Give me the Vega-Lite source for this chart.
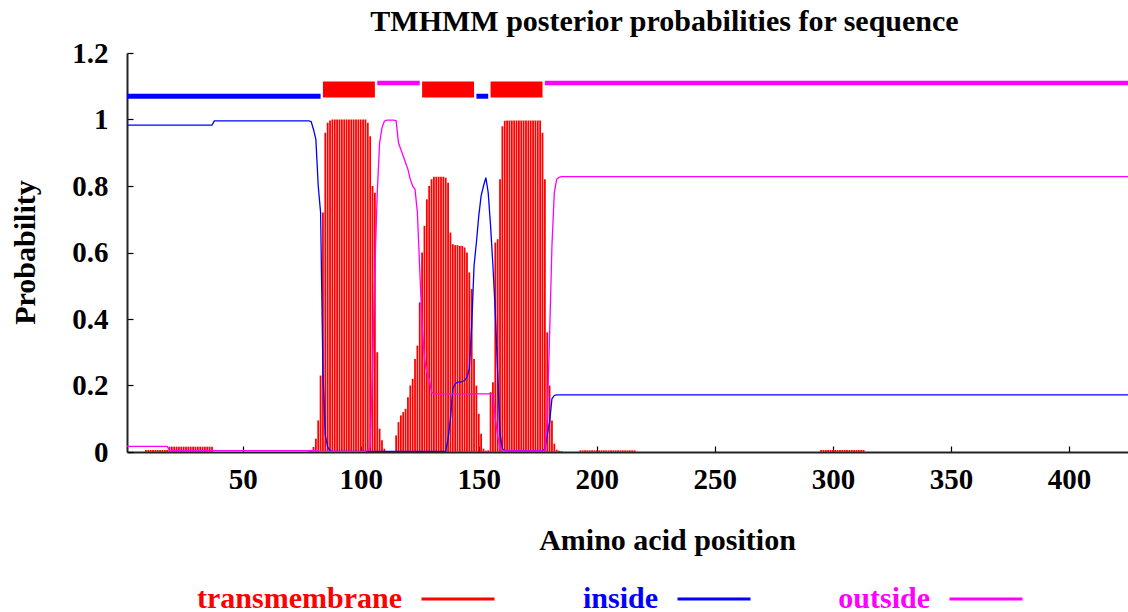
{
  "$schema": "https://vega.github.io/schema/vega-lite/v6.json",
  "width": 1001,
  "height": 399,
  "autosize": {"type": "none"},
  "padding": {"left": 127, "top": 53, "right": 0, "bottom": 160},
  "background": "white",
  "title": {
    "text": "TMHMM posterior probabilities for sequence",
    "font": "Liberation Serif", "fontSize": 30, "fontWeight": "bold", "color": "black",
    "anchor": "middle", "dx": 37, "offset": 2
  },
  "config": {
    "view": {"stroke": null},
    "axis": {
      "labelFont": "Liberation Serif", "labelFontSize": 29, "labelFontWeight": "bold", "labelColor": "black",
      "titleFont": "Liberation Serif", "titleFontSize": 30, "titleFontWeight": "bold", "titleColor": "black",
      "domainColor": "#222222", "domainWidth": 2, "tickColor": "black", "tickWidth": 1.2, "grid": false
    },
    "legend": {
      "orient": "none", "legendX": 293, "legendY": 508, "direction": "horizontal", "padding": 0,
      "symbolType": "stroke", "symbolSize": 5329, "symbolStrokeWidth": 3,
      "labelFont": "Liberation Serif", "labelFontSize": 30, "labelFontWeight": "bold", "labelLimit": 0,
      "columnPadding": 81
    }
  },
  "datasets": {
    "prob": [
      {"pos": 1, "tm": 0, "inside": 0.983, "outside": 0.017},
      {"pos": 8, "tm": 0, "inside": 0.983, "outside": 0.017},
      {"pos": 9, "tm": 0.006, "inside": 0.983, "outside": 0.017},
      {"pos": 10, "tm": 0.006, "inside": 0.983, "outside": 0.017},
      {"pos": 11, "tm": 0.006, "inside": 0.983, "outside": 0.017},
      {"pos": 12, "tm": 0.006, "inside": 0.983, "outside": 0.017},
      {"pos": 13, "tm": 0.006, "inside": 0.983, "outside": 0.017},
      {"pos": 14, "tm": 0.006, "inside": 0.983, "outside": 0.017},
      {"pos": 15, "tm": 0.006, "inside": 0.983, "outside": 0.017},
      {"pos": 16, "tm": 0.006, "inside": 0.983, "outside": 0.017},
      {"pos": 17, "tm": 0.006, "inside": 0.983, "outside": 0.017},
      {"pos": 18, "tm": 0.006, "inside": 0.983, "outside": 0.017},
      {"pos": 19, "tm": 0.016, "inside": 0.983, "outside": 0.004},
      {"pos": 20, "tm": 0.016, "inside": 0.983, "outside": 0.004},
      {"pos": 21, "tm": 0.016, "inside": 0.983, "outside": 0.004},
      {"pos": 22, "tm": 0.016, "inside": 0.983, "outside": 0.004},
      {"pos": 23, "tm": 0.016, "inside": 0.983, "outside": 0.004},
      {"pos": 24, "tm": 0.016, "inside": 0.983, "outside": 0.004},
      {"pos": 25, "tm": 0.016, "inside": 0.983, "outside": 0.004},
      {"pos": 26, "tm": 0.016, "inside": 0.983, "outside": 0.004},
      {"pos": 27, "tm": 0.016, "inside": 0.983, "outside": 0.004},
      {"pos": 28, "tm": 0.016, "inside": 0.983, "outside": 0.004},
      {"pos": 29, "tm": 0.016, "inside": 0.983, "outside": 0.004},
      {"pos": 30, "tm": 0.016, "inside": 0.983, "outside": 0.004},
      {"pos": 31, "tm": 0.016, "inside": 0.983, "outside": 0.004},
      {"pos": 32, "tm": 0.016, "inside": 0.983, "outside": 0.004},
      {"pos": 33, "tm": 0.016, "inside": 0.983, "outside": 0.004},
      {"pos": 34, "tm": 0.016, "inside": 0.983, "outside": 0.004},
      {"pos": 35, "tm": 0.016, "inside": 0.983, "outside": 0.004},
      {"pos": 36, "tm": 0.016, "inside": 0.983, "outside": 0.004},
      {"pos": 37, "tm": 0.016, "inside": 0.983, "outside": 0.004},
      {"pos": 38, "tm": 0, "inside": 0.996, "outside": 0.004},
      {"pos": 78, "tm": 0.002, "inside": 0.996, "outside": 0.004},
      {"pos": 79, "tm": 0.005, "inside": 0.994, "outside": 0.004},
      {"pos": 80, "tm": 0.015, "inside": 0.97, "outside": 0.004},
      {"pos": 81, "tm": 0.04, "inside": 0.94, "outside": 0.003},
      {"pos": 82, "tm": 0.095, "inside": 0.8, "outside": 0.003},
      {"pos": 83, "tm": 0.23, "inside": 0.72, "outside": 0.002},
      {"pos": 84, "tm": 0.72, "inside": 0.24, "outside": 0.002},
      {"pos": 85, "tm": 0.96, "inside": 0.05, "outside": 0.002},
      {"pos": 86, "tm": 0.99, "inside": 0.015, "outside": 0.002},
      {"pos": 87, "tm": 0.997, "inside": 0.004, "outside": 0.002},
      {"pos": 88, "tm": 1.0, "inside": 0.002, "outside": 0.002},
      {"pos": 89, "tm": 1.0, "inside": 0.002, "outside": 0.002},
      {"pos": 90, "tm": 1.0, "inside": 0.002, "outside": 0.002},
      {"pos": 91, "tm": 1.0, "inside": 0.002, "outside": 0.002},
      {"pos": 92, "tm": 1.0, "inside": 0.002, "outside": 0.002},
      {"pos": 93, "tm": 1.0, "inside": 0.002, "outside": 0.002},
      {"pos": 94, "tm": 1.0, "inside": 0.002, "outside": 0.002},
      {"pos": 95, "tm": 1.0, "inside": 0.002, "outside": 0.002},
      {"pos": 96, "tm": 1.0, "inside": 0.002, "outside": 0.002},
      {"pos": 97, "tm": 1.0, "inside": 0.002, "outside": 0.002},
      {"pos": 98, "tm": 1.0, "inside": 0.002, "outside": 0.002},
      {"pos": 99, "tm": 1.0, "inside": 0.002, "outside": 0.002},
      {"pos": 100, "tm": 1.0, "inside": 0.002, "outside": 0.002},
      {"pos": 101, "tm": 1.0, "inside": 0.002, "outside": 0.002},
      {"pos": 102, "tm": 1.0, "inside": 0.002, "outside": 0.002},
      {"pos": 103, "tm": 0.99, "inside": 0.002, "outside": 0.005},
      {"pos": 104, "tm": 0.95, "inside": 0.002, "outside": 0.015},
      {"pos": 105, "tm": 0.8, "inside": 0.002, "outside": 0.25},
      {"pos": 106, "tm": 0.78, "inside": 0.002, "outside": 0.55},
      {"pos": 107, "tm": 0.3, "inside": 0.002, "outside": 0.78},
      {"pos": 108, "tm": 0.07, "inside": 0.002, "outside": 0.93},
      {"pos": 109, "tm": 0.035, "inside": 0.002, "outside": 0.975},
      {"pos": 110, "tm": 0.01, "inside": 0.002, "outside": 0.995},
      {"pos": 111, "tm": 0, "inside": 0.002, "outside": 0.998},
      {"pos": 114, "tm": 0, "inside": 0.002, "outside": 0.998},
      {"pos": 115, "tm": 0.05, "inside": 0.002, "outside": 0.996},
      {"pos": 116, "tm": 0.09, "inside": 0.002, "outside": 0.93},
      {"pos": 117, "tm": 0.11, "inside": 0.002, "outside": 0.91},
      {"pos": 118, "tm": 0.12, "inside": 0.002, "outside": 0.89},
      {"pos": 119, "tm": 0.13, "inside": 0.002, "outside": 0.87},
      {"pos": 120, "tm": 0.165, "inside": 0.002, "outside": 0.85},
      {"pos": 121, "tm": 0.2, "inside": 0.002, "outside": 0.82},
      {"pos": 122, "tm": 0.22, "inside": 0.002, "outside": 0.8},
      {"pos": 123, "tm": 0.28, "inside": 0.002, "outside": 0.79},
      {"pos": 124, "tm": 0.32, "inside": 0.002, "outside": 0.72},
      {"pos": 125, "tm": 0.45, "inside": 0.002, "outside": 0.55},
      {"pos": 126, "tm": 0.6, "inside": 0.002, "outside": 0.38},
      {"pos": 127, "tm": 0.68, "inside": 0.002, "outside": 0.28},
      {"pos": 128, "tm": 0.76, "inside": 0.002, "outside": 0.24},
      {"pos": 129, "tm": 0.8, "inside": 0.002, "outside": 0.22},
      {"pos": 130, "tm": 0.82, "inside": 0.002, "outside": 0.18},
      {"pos": 131, "tm": 0.828, "inside": 0.002, "outside": 0.175},
      {"pos": 132, "tm": 0.828, "inside": 0.002, "outside": 0.175},
      {"pos": 133, "tm": 0.828, "inside": 0.002, "outside": 0.175},
      {"pos": 134, "tm": 0.828, "inside": 0.002, "outside": 0.175},
      {"pos": 135, "tm": 0.828, "inside": 0.002, "outside": 0.175},
      {"pos": 136, "tm": 0.825, "inside": 0.002, "outside": 0.175},
      {"pos": 137, "tm": 0.81, "inside": 0.04, "outside": 0.175},
      {"pos": 138, "tm": 0.66, "inside": 0.1, "outside": 0.175},
      {"pos": 139, "tm": 0.625, "inside": 0.19, "outside": 0.175},
      {"pos": 140, "tm": 0.622, "inside": 0.205, "outside": 0.175},
      {"pos": 141, "tm": 0.622, "inside": 0.21, "outside": 0.175},
      {"pos": 142, "tm": 0.62, "inside": 0.21, "outside": 0.175},
      {"pos": 143, "tm": 0.62, "inside": 0.212, "outside": 0.175},
      {"pos": 144, "tm": 0.615, "inside": 0.215, "outside": 0.175},
      {"pos": 145, "tm": 0.6, "inside": 0.225, "outside": 0.175},
      {"pos": 146, "tm": 0.54, "inside": 0.25, "outside": 0.175},
      {"pos": 147, "tm": 0.49, "inside": 0.38, "outside": 0.175},
      {"pos": 148, "tm": 0.28, "inside": 0.56, "outside": 0.175},
      {"pos": 149, "tm": 0.2, "inside": 0.63, "outside": 0.175},
      {"pos": 150, "tm": 0.115, "inside": 0.71, "outside": 0.175},
      {"pos": 151, "tm": 0.055, "inside": 0.77, "outside": 0.175},
      {"pos": 152, "tm": 0.01, "inside": 0.8, "outside": 0.175},
      {"pos": 153, "tm": 0.004, "inside": 0.825, "outside": 0.175},
      {"pos": 154, "tm": 0.005, "inside": 0.78, "outside": 0.175},
      {"pos": 155, "tm": 0.18, "inside": 0.68, "outside": 0.175},
      {"pos": 156, "tm": 0.21, "inside": 0.56, "outside": 0.175},
      {"pos": 157, "tm": 0.63, "inside": 0.42, "outside": 0.1},
      {"pos": 158, "tm": 0.64, "inside": 0.24, "outside": 0.05},
      {"pos": 159, "tm": 0.82, "inside": 0.055, "outside": 0.01},
      {"pos": 160, "tm": 0.98, "inside": 0.01, "outside": 0.004},
      {"pos": 161, "tm": 0.996, "inside": 0.004, "outside": 0.003},
      {"pos": 162, "tm": 0.997, "inside": 0.003, "outside": 0.003},
      {"pos": 163, "tm": 0.997, "inside": 0.003, "outside": 0.003},
      {"pos": 164, "tm": 0.997, "inside": 0.003, "outside": 0.003},
      {"pos": 165, "tm": 0.997, "inside": 0.003, "outside": 0.003},
      {"pos": 166, "tm": 0.997, "inside": 0.003, "outside": 0.003},
      {"pos": 167, "tm": 0.997, "inside": 0.003, "outside": 0.003},
      {"pos": 168, "tm": 0.997, "inside": 0.003, "outside": 0.003},
      {"pos": 169, "tm": 0.997, "inside": 0.003, "outside": 0.003},
      {"pos": 170, "tm": 0.997, "inside": 0.003, "outside": 0.003},
      {"pos": 171, "tm": 0.997, "inside": 0.003, "outside": 0.003},
      {"pos": 172, "tm": 0.997, "inside": 0.003, "outside": 0.003},
      {"pos": 173, "tm": 0.997, "inside": 0.003, "outside": 0.003},
      {"pos": 174, "tm": 0.997, "inside": 0.003, "outside": 0.003},
      {"pos": 175, "tm": 0.997, "inside": 0.003, "outside": 0.003},
      {"pos": 176, "tm": 0.997, "inside": 0.003, "outside": 0.003},
      {"pos": 177, "tm": 0.96, "inside": 0.003, "outside": 0.003},
      {"pos": 178, "tm": 0.82, "inside": 0.01, "outside": 0.005},
      {"pos": 179, "tm": 0.36, "inside": 0.05, "outside": 0.1},
      {"pos": 180, "tm": 0.2, "inside": 0.09, "outside": 0.35},
      {"pos": 181, "tm": 0.095, "inside": 0.16, "outside": 0.62},
      {"pos": 182, "tm": 0.025, "inside": 0.17, "outside": 0.78},
      {"pos": 183, "tm": 0.007, "inside": 0.172, "outside": 0.82},
      {"pos": 184, "tm": 0.004, "inside": 0.172, "outside": 0.826},
      {"pos": 185, "tm": 0.003, "inside": 0.172, "outside": 0.828},
      {"pos": 186, "tm": 0, "inside": 0.172, "outside": 0.828},
      {"pos": 193, "tm": 0.005, "inside": 0.172, "outside": 0.828},
      {"pos": 194, "tm": 0.005, "inside": 0.172, "outside": 0.828},
      {"pos": 195, "tm": 0.005, "inside": 0.172, "outside": 0.828},
      {"pos": 196, "tm": 0.005, "inside": 0.172, "outside": 0.828},
      {"pos": 197, "tm": 0.005, "inside": 0.172, "outside": 0.828},
      {"pos": 198, "tm": 0.005, "inside": 0.172, "outside": 0.828},
      {"pos": 199, "tm": 0.005, "inside": 0.172, "outside": 0.828},
      {"pos": 200, "tm": 0.005, "inside": 0.172, "outside": 0.828},
      {"pos": 201, "tm": 0.005, "inside": 0.172, "outside": 0.828},
      {"pos": 202, "tm": 0.005, "inside": 0.172, "outside": 0.828},
      {"pos": 203, "tm": 0.005, "inside": 0.172, "outside": 0.828},
      {"pos": 204, "tm": 0.005, "inside": 0.172, "outside": 0.828},
      {"pos": 205, "tm": 0.005, "inside": 0.172, "outside": 0.828},
      {"pos": 206, "tm": 0.005, "inside": 0.172, "outside": 0.828},
      {"pos": 207, "tm": 0.005, "inside": 0.172, "outside": 0.828},
      {"pos": 208, "tm": 0.005, "inside": 0.172, "outside": 0.828},
      {"pos": 209, "tm": 0.005, "inside": 0.172, "outside": 0.828},
      {"pos": 210, "tm": 0.005, "inside": 0.172, "outside": 0.828},
      {"pos": 211, "tm": 0.005, "inside": 0.172, "outside": 0.828},
      {"pos": 212, "tm": 0.005, "inside": 0.172, "outside": 0.828},
      {"pos": 213, "tm": 0.005, "inside": 0.172, "outside": 0.828},
      {"pos": 214, "tm": 0.005, "inside": 0.172, "outside": 0.828},
      {"pos": 215, "tm": 0.005, "inside": 0.172, "outside": 0.828},
      {"pos": 216, "tm": 0.005, "inside": 0.172, "outside": 0.828},
      {"pos": 295, "tm": 0.006, "inside": 0.172, "outside": 0.828},
      {"pos": 296, "tm": 0.006, "inside": 0.172, "outside": 0.828},
      {"pos": 297, "tm": 0.006, "inside": 0.172, "outside": 0.828},
      {"pos": 298, "tm": 0.006, "inside": 0.172, "outside": 0.828},
      {"pos": 299, "tm": 0.006, "inside": 0.172, "outside": 0.828},
      {"pos": 300, "tm": 0.006, "inside": 0.172, "outside": 0.828},
      {"pos": 301, "tm": 0.006, "inside": 0.172, "outside": 0.828},
      {"pos": 302, "tm": 0.006, "inside": 0.172, "outside": 0.828},
      {"pos": 303, "tm": 0.006, "inside": 0.172, "outside": 0.828},
      {"pos": 304, "tm": 0.006, "inside": 0.172, "outside": 0.828},
      {"pos": 305, "tm": 0.006, "inside": 0.172, "outside": 0.828},
      {"pos": 306, "tm": 0.006, "inside": 0.172, "outside": 0.828},
      {"pos": 307, "tm": 0.006, "inside": 0.172, "outside": 0.828},
      {"pos": 308, "tm": 0.006, "inside": 0.172, "outside": 0.828},
      {"pos": 309, "tm": 0.006, "inside": 0.172, "outside": 0.828},
      {"pos": 310, "tm": 0.006, "inside": 0.172, "outside": 0.828},
      {"pos": 311, "tm": 0.006, "inside": 0.172, "outside": 0.828},
      {"pos": 312, "tm": 0.006, "inside": 0.172, "outside": 0.828},
      {"pos": 313, "tm": 0.006, "inside": 0.172, "outside": 0.828},
      {"pos": 425, "tm": 0, "inside": 0.172, "outside": 0.828}
    ],
    "topology": [
      {"start": 1, "end": 83, "region": "inside", "level": 1.07},
      {"start": 84, "end": 106, "region": "transmembrane", "level": 1.09},
      {"start": 107, "end": 125, "region": "outside", "level": 1.11},
      {"start": 126, "end": 148, "region": "transmembrane", "level": 1.09},
      {"start": 149, "end": 154, "region": "inside", "level": 1.07},
      {"start": 155, "end": 177, "region": "transmembrane", "level": 1.09},
      {"start": 178, "end": 425, "region": "outside", "level": 1.11}
    ]
  },
  "layer": [
    {
      "data": {"name": "prob"},
      "transform": [{"filter": "datum.tm > 0"}],
      "mark": {"type": "rule", "strokeWidth": 1.8, "strokeCap": "butt"},
      "encoding": {
        "x": {"field": "pos", "type": "quantitative", "scale": {"domain": [1, 425], "nice": false, "zero": false},
          "axis": {"title": "Amino acid position", "values": [50, 100, 150, 200, 250, 300, 350, 400], "tickSize": -6, "labelPadding": 19,
            "titleX": 540, "titleY": 88, "titleBaseline": "middle"}},
        "y": {"field": "tm", "type": "quantitative", "scale": {"domain": [0, 1.2], "nice": false},
          "axis": {"title": "Probability", "values": [0, 0.2, 0.4, 0.6, 0.8, 1, 1.2], "format": "~g", "tickSize": -6, "labelPadding": 25,
            "titleX": -102, "titleY": 199, "titleBaseline": "middle", "titleAngle": 270}},
        "y2": {"datum": 0},
        "color": {"datum": "transmembrane", "type": "nominal",
          "scale": {"domain": ["transmembrane", "inside", "outside"], "range": ["#ff0000", "#0000ff", "#ff00ff"]},
          "legend": {"title": null,
            "encode": {"labels": {"update": {"fill": {"scale": "color", "field": "value"}, "align": {"value": "right"}, "x": {"value": -18}}}}}}
      }
    },
    {
      "data": {"name": "prob"},
      "transform": [{"fold": ["inside", "outside"], "as": ["series", "p"]}],
      "mark": {"type": "line", "strokeWidth": 1.3},
      "encoding": {
        "x": {"field": "pos", "type": "quantitative"},
        "y": {"field": "p", "type": "quantitative"},
        "color": {"field": "series", "type": "nominal",
          "legend": {"title": null,
            "encode": {"labels": {"update": {"fill": {"scale": "color", "field": "value"}, "align": {"value": "right"}, "x": {"value": -18}}}}}}
      }
    },
    {
      "data": {"name": "topology"},
      "transform": [{"filter": "datum.region == 'inside'"}],
      "mark": {"type": "rule", "strokeCap": "butt", "strokeWidth": 5},
      "encoding": {
        "x": {"field": "start", "type": "quantitative"},
        "x2": {"field": "end"},
        "y": {"field": "level", "type": "quantitative"},
        "color": {"field": "region", "type": "nominal",
          "legend": {"title": null,
            "encode": {"labels": {"update": {"fill": {"scale": "color", "field": "value"}, "align": {"value": "right"}, "x": {"value": -18}}}}}}
      }
    },
    {
      "data": {"name": "topology"},
      "transform": [{"filter": "datum.region == 'outside'"}],
      "mark": {"type": "rule", "strokeCap": "butt", "strokeWidth": 4.5},
      "encoding": {
        "x": {"field": "start", "type": "quantitative"},
        "x2": {"field": "end"},
        "y": {"field": "level", "type": "quantitative"},
        "color": {"field": "region", "type": "nominal",
          "legend": {"title": null,
            "encode": {"labels": {"update": {"fill": {"scale": "color", "field": "value"}, "align": {"value": "right"}, "x": {"value": -18}}}}}}
      }
    },
    {
      "data": {"name": "topology"},
      "transform": [{"filter": "datum.region == 'transmembrane'"}],
      "mark": {"type": "rule", "strokeCap": "butt", "strokeWidth": 16},
      "encoding": {
        "x": {"field": "start", "type": "quantitative"},
        "x2": {"field": "end"},
        "y": {"field": "level", "type": "quantitative"},
        "color": {"field": "region", "type": "nominal",
          "legend": {"title": null,
            "encode": {"labels": {"update": {"fill": {"scale": "color", "field": "value"}, "align": {"value": "right"}, "x": {"value": -18}}}}}}
      }
    }
  ]
}
